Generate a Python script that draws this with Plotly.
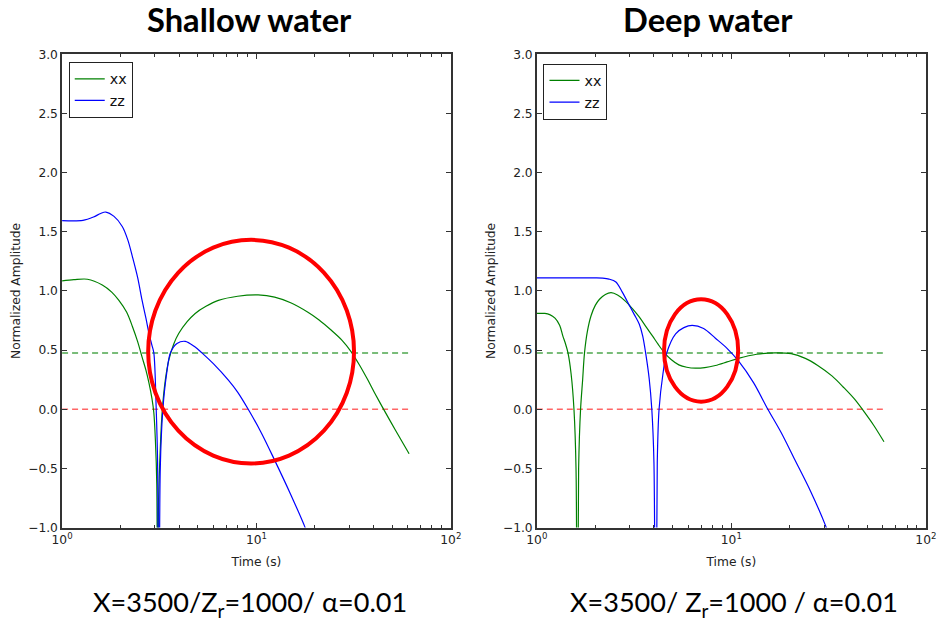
import plotly.graph_objects as go

# ---------------- data ----------------
# Shallow water
t_sh_xx = [1.0, 1.15, 1.35, 1.61, 1.80, 1.96, 2.15, 2.30, 2.45, 2.58, 2.70, 2.80, 2.90, 2.965, 3.02,
           3.07, 3.10, 3.13, 3.18, 3.27, 3.40, 3.54, 3.75, 3.98, 4.40, 4.84, 5.5, 6.37, 8.0,
           10.2, 12.4, 15.0, 18.4, 21.0, 24.2, 27.5, 30.6, 34.0, 37.2, 40.5, 44.4, 52.0, 61.0]
v_sh_xx = [1.085, 1.095, 1.099, 1.05, 0.99, 0.92, 0.82, 0.70, 0.57, 0.44, 0.33, 0.22, 0.09, -0.03, -0.26,
           -0.63, -3.0, -0.85, -0.45, -0.03, 0.25, 0.415, 0.55, 0.64, 0.74, 0.81, 0.87, 0.92, 0.955,
           0.966, 0.948, 0.90, 0.82, 0.755, 0.67, 0.585, 0.49, 0.37, 0.255, 0.14, 0.02, -0.18, -0.376]

t_sh_zz = [1.0, 1.28, 1.45, 1.58, 1.678, 1.85, 2.04, 2.18, 2.30, 2.45, 2.58, 2.70, 2.80, 2.90,
           2.965, 3.05, 3.10, 3.15, 3.20, 3.30, 3.45, 3.61, 3.90, 4.30, 4.80, 5.24, 6.0, 7.17,
           8.0, 9.07, 10.6, 12.4, 15.0, 17.7, 18.5]
v_sh_zz = [1.595, 1.597, 1.625, 1.655, 1.667, 1.63, 1.545, 1.43, 1.29, 1.11, 0.92, 0.77, 0.64, 0.54,
           0.477, 0.0, -0.45, -3.0, -0.5, 0.0, 0.3, 0.477, 0.555, 0.574, 0.53, 0.477, 0.385, 0.246,
           0.145, 0.0, -0.20, -0.43, -0.72, -0.99, -1.08]

# Deep water
t_dp_xx = [1.0, 1.10, 1.165, 1.24, 1.31, 1.36, 1.40, 1.447, 1.50, 1.552, 1.59, 1.614, 1.64,
           1.678, 1.72, 1.758, 1.82, 1.90, 2.00, 2.10, 2.25, 2.41, 2.60, 2.87, 3.10, 3.36, 3.63, 3.93,
           4.20, 4.51, 4.90, 5.37, 5.90, 6.54, 7.30, 8.28, 9.5, 10.85, 13.5, 16.7, 20.3, 24.0, 27.8,
           33.0, 38.0, 43.0, 48.1, 54.0, 60.9]
v_dp_xx = [0.81, 0.81, 0.80, 0.77, 0.71, 0.62, 0.56, 0.475, 0.30, 0.0, -0.5, -3.0, -0.5,
           0.0, 0.25, 0.475, 0.66, 0.79, 0.88, 0.93, 0.97, 0.985, 0.965, 0.91, 0.85, 0.78, 0.70, 0.62,
           0.55, 0.48, 0.42, 0.375, 0.355, 0.347, 0.352, 0.37, 0.40, 0.43, 0.465, 0.477, 0.47, 0.43,
           0.37, 0.28, 0.18, 0.085, -0.02, -0.137, -0.275]

t_dp_zz = [1.0, 1.5, 2.0, 2.18, 2.35, 2.55, 2.75, 2.99, 3.17, 3.36, 3.50, 3.63, 3.78, 3.90,
           4.00, 4.08, 4.16, 4.25, 4.45, 4.65, 5.17, 5.70, 6.29, 7.20, 8.28, 9.5, 10.85, 13.0,
           15.4, 18.0, 21.1, 25.5, 30.6, 31.5]
v_dp_zz = [1.11, 1.11, 1.11, 1.108, 1.10, 1.076, 0.99, 0.878, 0.80, 0.72, 0.62, 0.47, 0.26, 0.0,
           -0.45, -3.0, -0.45, 0.0, 0.30, 0.475, 0.638, 0.69, 0.709, 0.683, 0.60, 0.515, 0.41, 0.225,
           0.0, -0.195, -0.42, -0.69, -0.99, -1.05]

# reference levels (dashed)
t_ref = [1.0, 60.8]
ref_xx_level = [0.475, 0.475]
ref_zero_level = [0.0, 0.0]

panel_titles = ["Shallow water", "Deep water"]
panel_captions = ["X=3500/Z<sub>r</sub>=1000/ \u03b1=0.01", "X=3500/ Z<sub>r</sub>=1000 / \u03b1=0.01"]
y_ticks = [-1.0, -0.5, 0.0, 0.5, 1.0, 1.5, 2.0, 2.5, 3.0]
x_ticks = [1, 10, 100]
x_ticktext = ["10<sup>0</sup>", "10<sup>1</sup>", "10<sup>2</sup>"]
x_minor = [2, 3, 4, 5, 6, 7, 8, 9, 20, 30, 40, 50, 60, 70, 80, 90]

# highlight ellipses: (time range, amplitude range)
ellipse_left = dict(x0=2.773, x1=31.77, y0=-0.458, y1=1.432)
ellipse_right = dict(x0=4.508, x1=10.84, y0=0.064, y1=0.929)

# ---------------- layout helpers ----------------
W, H = 938, 625
# the page is shown with an 8px body margin and shrunk to the window;
# map target pixel positions onto layout (paper) coordinates accordingly
SX = W / (W + 16)
SY = H / (H + 16)
FS = 1.0 / ((SX + SY) / 2)  # font compensation


def paper_x(px):
    return (px / SX - 8) / W


def paper_y(py):
    return 1 - (py / SY - 8) / H


def fs(size):
    return round(size * FS, 2)


# ---------------- figure ----------------
GREEN = "#008000"
BLUE = "#0000ff"
fig = go.Figure()

panels = [
    ("x", "y", "legend", t_sh_xx, v_sh_xx, t_sh_zz, v_sh_zz),
    ("x2", "y2", "legend2", t_dp_xx, v_dp_xx, t_dp_zz, v_dp_zz),
]
for xa, ya, lg, txx, vxx, tzz, vzz in panels:
    fig.add_trace(go.Scatter(x=t_ref, y=ref_xx_level, mode="lines", xaxis=xa, yaxis=ya,
                             line=dict(color="rgba(0,128,0,0.7)", width=1.6, dash="6px,4px"),
                             showlegend=False, hoverinfo="skip"))
    fig.add_trace(go.Scatter(x=t_ref, y=ref_zero_level, mode="lines", xaxis=xa, yaxis=ya,
                             line=dict(color="rgba(255,0,0,0.6)", width=1.6, dash="6px,4px"),
                             showlegend=False, hoverinfo="skip"))
    fig.add_trace(go.Scatter(x=txx, y=vxx, mode="lines", name="xx", xaxis=xa, yaxis=ya,
                             line=dict(color=GREEN, width=1.2, shape="spline", smoothing=0.9),
                             legend=lg, legendgroup=lg + "a"))
    fig.add_trace(go.Scatter(x=tzz, y=vzz, mode="lines", name="zz", xaxis=xa, yaxis=ya,
                             line=dict(color=BLUE, width=1.2, shape="spline", smoothing=0.9),
                             legend=lg, legendgroup=lg + "b"))

tick_font = dict(family="DejaVu Sans", size=fs(12), color="#222")
frame = dict(showline=True, linecolor="#333", linewidth=1.5, mirror="allticks",
             ticks="inside", tickcolor="#333", showgrid=False, zeroline=False,
             tickfont=tick_font)

xdoms = [[paper_x(59.3), paper_x(450.7)], [paper_x(537.3), paper_x(929.0)]]
ydom = [paper_y(527), paper_y(55)]

for i, (xa, ya) in enumerate([("xaxis", "yaxis"), ("xaxis2", "yaxis2")]):
    fig.update_layout({
        xa: dict(frame, domain=xdoms[i], type="log", range=[0, 2], tickvals=x_ticks,
                 ticktext=x_ticktext, ticklen=5,
                 minor=dict(tickvals=x_minor, ticks="inside", ticklen=2.5, tickcolor="#333"),
                 anchor="y" if i == 0 else "y2",
                 title=dict(text="Time (s)", font=dict(family="DejaVu Sans", size=fs(12), color="#222"),
                            standoff=11)),
        ya: dict(frame, domain=ydom, range=[-1, 3], tickvals=y_ticks, tickformat=".1f", ticklen=5,
                 anchor="x" if i == 0 else "x2",
                 title=dict(text="Normalized Amplitude",
                            font=dict(family="DejaVu Sans", size=fs(12), color="#222"), standoff=5)),
    })

legend_common = dict(bgcolor="white", bordercolor="#222", borderwidth=1,
                     font=dict(family="DejaVu Sans", size=fs(14), color="#111"),
                     xanchor="left", yanchor="top", tracegroupgap=0, itemwidth=30)
fig.update_layout(
    legend=dict(legend_common, x=paper_x(66), y=paper_y(62.7)),
    legend2=dict(legend_common, x=paper_x(544), y=paper_y(64.3)),
)

# ellipses
fig.add_shape(type="circle", xref="x", yref="y", line=dict(color="#ff0000", width=4),
              layer="above", **ellipse_left)
fig.add_shape(type="circle", xref="x2", yref="y2", line=dict(color="#ff0000", width=4),
              layer="above", **ellipse_right)

# titles and captions
title_x = [248, 710]
cap_x = [248, 736]
for i in range(2):
    fig.add_annotation(text="<b>" + panel_titles[i] + "</b>", xref="paper", yref="paper",
                       x=paper_x(title_x[i]), y=paper_y(20), showarrow=False,
                       xanchor="center", yanchor="middle",
                       font=dict(family="Lato", size=fs(32), color="#000"))
    fig.add_annotation(text=panel_captions[i], xref="paper", yref="paper",
                       x=paper_x(cap_x[i]), y=paper_y(603), showarrow=False,
                       xanchor="center", yanchor="middle",
                       font=dict(family="Lato", size=fs(26.5), color="#000"))

fig.update_layout(width=W, height=H, autosize=False,
                  margin=dict(l=0, r=0, t=0, b=0),
                  paper_bgcolor="white", plot_bgcolor="white")

fig.write_html("out.html")
